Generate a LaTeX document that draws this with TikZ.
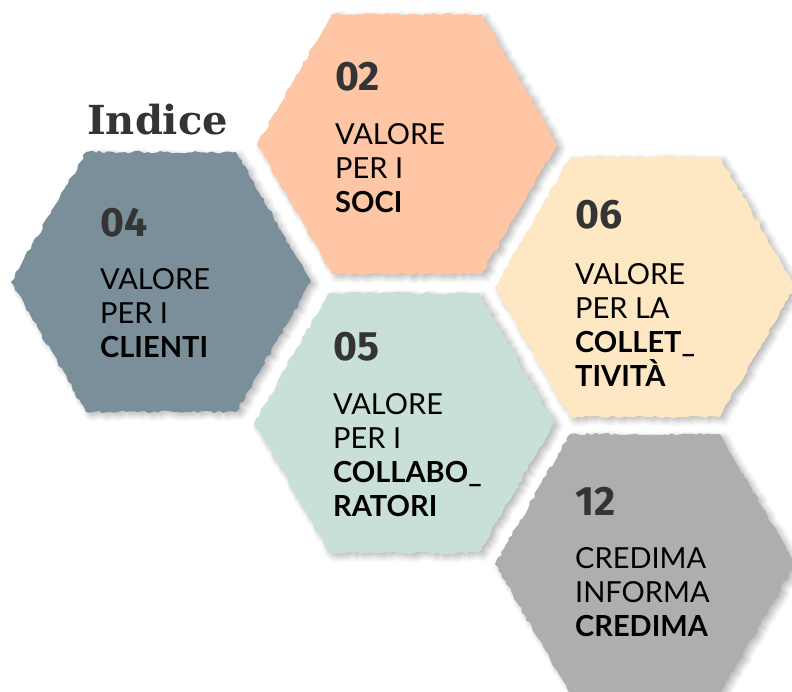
\documentclass[tikz,border=0pt]{standalone}
\usepackage{fontspec}
\usepackage{xcolor}
\usepackage{tikz}
\setmainfont{Lato}
\newfontfamily\numfont{Fira Sans}
\newfontfamily\titlefont{DejaVu Serif}
\usetikzlibrary{shapes.geometric,decorations.pathmorphing,shadows.blur}
\definecolor{clienti-color}{RGB}{123, 143, 155}
\definecolor{soci-color}{RGB}{255, 198, 165}
\definecolor{coll-color}{RGB}{254, 232, 196}
\definecolor{collab-color}{RGB}{201, 223, 217}
\definecolor{informa-color}{RGB}{173, 174, 174}
\definecolor{num-color}{RGB}{52, 52, 52}

\begin{document}
\begin{tikzpicture}[
    x=1pt, y=1pt,
    hexa/.style={regular polygon, regular polygon sides=6, minimum size=300pt,
        inner sep=0pt, outer sep=0pt, decorate,
        decoration={random steps, segment length=4pt, amplitude=1.4pt},
        blur shadow={shadow xshift=4pt, shadow yshift=-3pt, shadow blur steps=8,
            shadow blur radius=6pt, shadow opacity=30}},
    num/.style={anchor=north west, inner sep=0pt, text=num-color,
        font=\numfont\bfseries\fontsize{41}{41}\selectfont},
    body/.style={anchor=north west, inner sep=0pt, align=left,
        font=\fontsize{29}{34}\selectfont}
]
\pgfmathsetseed{7}
\useasboundingbox (0,0) rectangle (792,691);

% hexagons
\node[hexa, fill=clienti-color] (clienti) at (161,409) {};
\node[hexa, fill=soci-color] (soci) at (407,547) {};
\node[hexa, fill=coll-color] (collettivita) at (645,404) {};
\node[hexa, fill=collab-color] (collaboratori) at (404,268) {};
\node[hexa, fill=informa-color] (informa) at (645,127) {};

% title
\node[anchor=base west, inner sep=0pt, text=num-color,
    font=\titlefont\bfseries\fontsize{40}{40}\selectfont] (indice) at (87,556) {Indice};

% labels
\node[num] (n04) at (100,483) {04};
\node[body] (t04) at (100,423) {VALORE\\PER I\\{\bfseries CLIENTI}};

\node[num] (n02) at (335,629) {02};
\node[body] (t02) at (335,568) {VALORE\\PER I\\{\bfseries SOCI}};

\node[num] (n06) at (575,491) {06};
\node[body] (t06) at (575,428) {VALORE\\PER LA\\{\bfseries COLLET\_}\\{\bfseries TIVITÀ}};

\node[num] (n05) at (333,359) {05};
\node[body] (t05) at (333,298) {VALORE\\PER I\\{\bfseries COLLABO\_}\\{\bfseries RATORI}};

\node[num] (n12) at (575,204) {12};
\node[body] (t12) at (575,144) {CREDIMA\\INFORMA\\{\bfseries CREDIMA}};
\end{tikzpicture}
\end{document}
